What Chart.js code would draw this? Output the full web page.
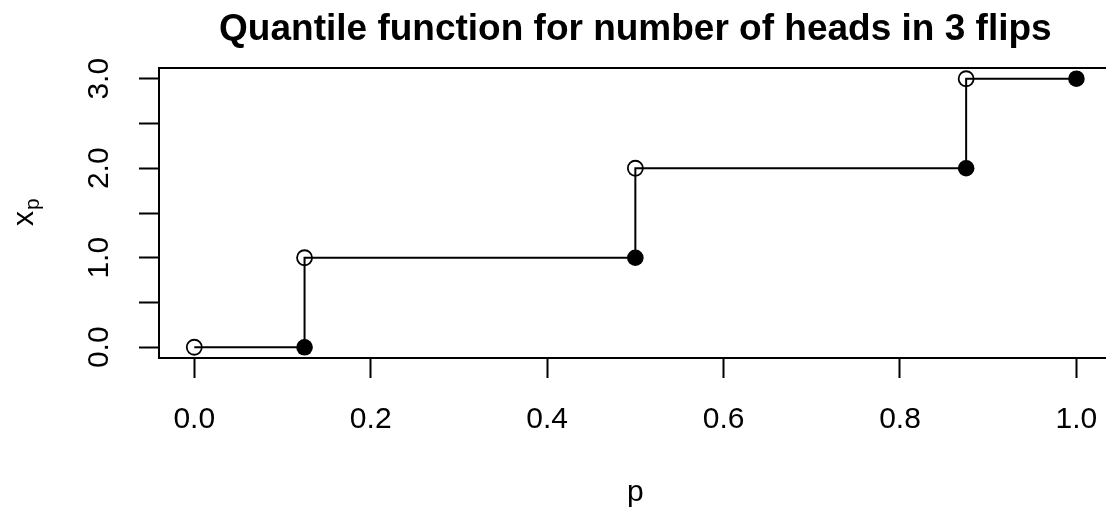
<!DOCTYPE html>
<html>
<head>
<meta charset="utf-8">
<script src="https://cdn.jsdelivr.net/npm/chart.js@4/dist/chart.umd.min.js"></script>
<style>
  html, body { margin: 0; padding: 0; background: #fff; }
  #wrap { width: 1106px; height: 513px; overflow: hidden; }
  #canvas { display: block; }
</style>
</head>
<body>
<div id="wrap"><canvas id="canvas" width="1121" height="513"></canvas></div>
<script>
// quantile of heads in 3 fair flips: open circle at the start of each step, filled at the end
let pOpen = [0, 0.125, 0.5, 0.875] ;
let xOpen = [0, 1, 2, 3] ;
let pFilled = [0.125, 0.5, 0.875, 1] ;
let xFilled = [0, 1, 2, 3] ;
let pTicks = [0, 0.2, 0.4, 0.6, 0.8, 1.0] ;
let xTicks = [0, 0.5, 1, 1.5, 2, 2.5, 3] ;
let xLabelled = [0, 1, 2, 3] ;

let titleText = 'Quantile function for number of heads in 3 flips' ;
let font = '"Liberation Sans", Arial, sans-serif' ;

// steps: horizontal from open to filled, then vertical up to the next open point
let steps = [] ;
for (let i = 0 ; i < pOpen.length ; i++) {
  steps.push({ x: pOpen[i], y: xOpen[i] }) ;
  steps.push({ x: pFilled[i], y: xFilled[i] }) ;
}

let openPts = pOpen.map((p, i) => ({ x: p, y: xOpen[i] })) ;
let filledPts = pFilled.map((p, i) => ({ x: p, y: xFilled[i] })) ;

let extras = {
  id: 'extras',
  afterDraw(chart) {
    let ctx = chart.ctx ;
    let a = chart.chartArea ;
    let ys = chart.scales.y ;
    ctx.save() ;
    ctx.strokeStyle = '#000' ;
    ctx.lineWidth = 2 ;
    ctx.strokeRect(a.left, a.top, a.right - a.left, a.bottom - a.top) ;

    ctx.fillStyle = '#000' ;
    // title
    ctx.font = 'bold 37px ' + font ;
    ctx.textAlign = 'center' ;
    ctx.textBaseline = 'alphabetic' ;
    ctx.fillText(titleText, (a.left + a.right) / 2, 40) ;

    // rotated y tick labels
    ctx.font = '30px ' + font ;
    xLabelled.forEach(v => {
      let py = ys.getPixelForValue(v) ;
      ctx.save() ;
      ctx.translate(100, py) ;
      ctx.rotate(-Math.PI / 2) ;
      ctx.textAlign = 'center' ;
      ctx.textBaseline = 'middle' ;
      ctx.fillText(v.toFixed(1), 0, 0) ;
      ctx.restore() ;
    }) ;

    // axis titles
    ctx.textAlign = 'center' ;
    ctx.textBaseline = 'alphabetic' ;
    ctx.fillText('p', (a.left + a.right) / 2, 501) ;

    ctx.save() ;
    ctx.translate(0, (a.top + a.bottom) / 2) ;
    ctx.rotate(-Math.PI / 2) ;
    ctx.textAlign = 'left' ;
    let w = ctx.measureText('x').width ;
    let x0 = -13 ;
    ctx.fillText('x', x0, 33) ;
    ctx.font = '21px ' + font ;
    ctx.fillText('p', x0 + w + 1, 39) ;
    ctx.restore() ;

    ctx.restore() ;
  }
} ;

let myChart = new Chart(document.getElementById('canvas'), {
  type: 'scatter',
  data: {
    datasets: [{
      data: steps,
      showLine: true,
      borderColor: '#000',
      borderWidth: 2,
      pointRadius: 0
    }, {
      data: openPts,
      pointRadius: 7.5,
      pointBorderWidth: 1.8,
      pointBorderColor: '#000',
      pointBackgroundColor: 'rgba(0,0,0,0)'
    }, {
      data: filledPts,
      pointRadius: 8.3,
      pointBorderWidth: 0,
      pointBackgroundColor: '#000'
    }]
  },
  options: {
    responsive: false,
    animation: false,
    layout: { padding: { top: 68, right: 0, left: 0, bottom: 0 } },
    plugins: { legend: { display: false }, tooltip: { enabled: false } },
    scales: {
      x: {
        type: 'linear',
        min: -0.04,
        max: 1.04,
        afterBuildTicks: s => { s.ticks = pTicks.map(v => ({ value: v })) ; },
        afterFit: s => { s.height = 513 - 358 ; s.paddingLeft = 0 ; s.paddingRight = 0 ; },
        grid: { drawOnChartArea: false, drawTicks: true, tickLength: 20, tickColor: '#000', tickWidth: 2 },
        border: { display: false },
        ticks: {
          color: '#000',
          font: { family: font, size: 30 },
          padding: 24,
          maxRotation: 0,
          callback: v => Number(v).toFixed(1)
        }
      },
      y: {
        type: 'linear',
        min: -0.12,
        max: 3.12,
        afterBuildTicks: s => { s.ticks = xTicks.map(v => ({ value: v })) ; },
        afterFit: s => { s.width = 159 ; s.paddingTop = 0 ; s.paddingBottom = 0 ; },
        grid: { drawOnChartArea: false, drawTicks: true, tickLength: 20, tickColor: '#000', tickWidth: 2 },
        border: { display: false },
        ticks: { callback: () => '' }
      }
    }
  },
  plugins: [extras]
}) ;
</script>
</body>
</html>
